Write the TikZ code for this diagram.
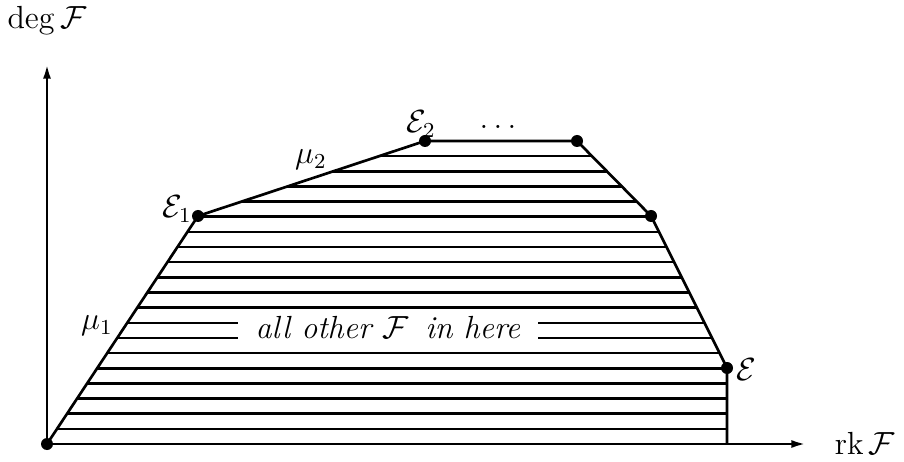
\documentclass[tikz,border=0pt]{standalone}
\usepackage{amsmath,amssymb}
\usepackage{tikz}
\usetikzlibrary{arrows.meta}

\begin{document}
\begin{tikzpicture}[x=0.375pt,y=-0.375pt,>={Latex[length=5.5pt,width=3pt]},
  every node/.style={font=\large},
  vtx/.style={circle,fill,inner sep=0pt,minimum size=4.5pt},
  hatch/.style={line width=0.95pt},
  edge/.style={line width=1pt}]
\useasboundingbox (0,0) rectangle (904,462);
% corners of the polygon
\node[vtx] (O) at (47,444) {};
\node[vtx] (E1) at (198,216) {};
\node[vtx] (E2) at (425,141) {};
\node[vtx] (T) at (577,141) {};
\node[vtx] (R) at (651,216) {};
\node[vtx] (E) at (727,368) {};
\coordinate (B) at (727,444);
\coordinate (xend) at (806,444);
\coordinate (yend) at (47,64);
% hatching
\begin{scope}
\clip (O.center) -- (E1.center) -- (E2.center) -- (T.center) -- (R.center) -- (E.center) -- (B) -- cycle;
\foreach \k in {0,...,20}
  \draw[hatch] (0,141+\k*15.15) -- (904,141+\k*15.15);
\end{scope}
\node[fill=white,minimum width=112.5pt,text height=6.5pt,text depth=1pt,inner ysep=0.5pt] (txt) at (388,331) {\textit{all other $\mathcal F$\, in here}};
% boundary
\draw[edge] (O.center) -- (E1.center) -- (E2.center) -- (T.center) -- (R.center) -- (E.center) -- (B);
% axes
\draw[edge,->] (O.center) -- (xend);
\draw[edge,->] (O.center) -- (yend);
% labels
\node[inner sep=0pt] (degF) at (47,21) {$\deg\mathcal F$};
\node (rkF) at (865,443) {$\operatorname{rk}\mathcal F$};
\node (mu1) at (97,326) {$\mu_1$};
\node (mu2) at (311,160) {$\mu_2$};
\node (lE1) at (177,209) {$\mathcal E_1$};
\node (lE2) at (421,124) {$\mathcal E_2$};
\node (dots) at (498,127) {$\ldots$};
\node (lE) at (746,370) {$\mathcal E$};
\end{tikzpicture}
\end{document}
